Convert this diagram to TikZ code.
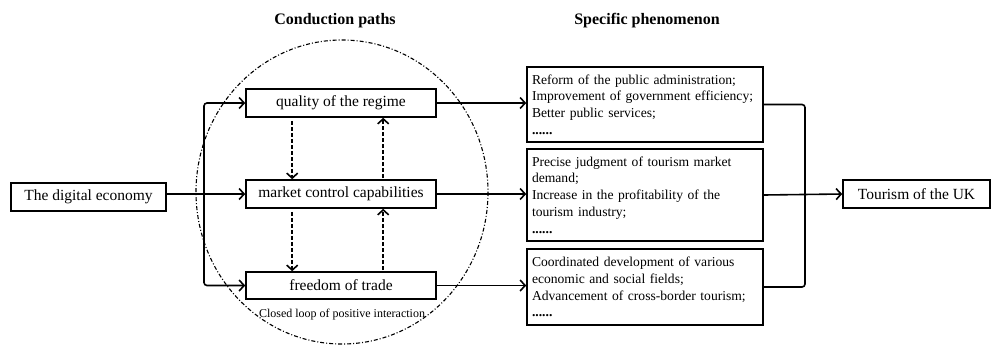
\documentclass[tikz,border=0pt]{standalone}
\usepackage{fontspec}
\setmainfont{Liberation Serif}
\usepackage{tikz}
\usetikzlibrary{arrows.meta}
\newcommand\phenfont{\fontsize{13.6}{16.7}\selectfont\hyphenpenalty=10000\relax}
\tikzset{
  pathbox/.style={draw, line width=1.6pt, inner sep=2pt, font=\fontsize{15.5}{17}\selectfont},
  phenbox/.style={draw, line width=1.6pt, inner xsep=5pt, inner ysep=3pt, text width=226pt, align=left, font=\phenfont},
  arr/.style={line width=1.6pt, -{Straight Barb[length=5pt,width=11pt,line width=1.6pt]}},
  dasharr/.style={arr, dash pattern=on 4pt off 2pt}
}
\tikzset{title/.style={font=\fontsize{16}{18}\selectfont\bfseries}}
\begin{document}
\begin{tikzpicture}[x=1pt, y=-1pt]
\useasboundingbox (0,0) rectangle (991,346);
\node [title] (ttlpaths) at (335,21) {Conduction paths};
\node [title] (ttlphen) at (647,21) {Specific phenomenon};
\draw [line width=1.1pt, dash pattern=on 4pt off 2pt on 1pt off 2pt] (342,192) ellipse (146 and 152);
\node [pathbox, minimum width=155pt, minimum height=28pt] (digital) at (88.5,197) {The digital economy};
\node [pathbox, minimum width=190pt, minimum height=28pt] (quality) at (341,103) {quality of the regime};
\node [pathbox, minimum width=190pt, minimum height=28pt] (market) at (341,194) {market control capabilities};
\node [pathbox, minimum width=190pt, minimum height=27pt] (freedom) at (341,285.5) {freedom of trade};
\node [font=\fontsize{12}{14}\selectfont] (loop) at (342,315) {Closed loop of positive interaction};
\node [phenbox, minimum height=75pt] (phen1) at (645,104.5) {Reform of the public administration;\\ Improvement of government efficiency;\\ Better public services;\\ \textbf{......}};
\node [phenbox, minimum height=92pt] (phen2) at (645,195) {Precise judgment of tourism market\\ demand;\\ Increase in the profitability of the\\ tourism industry;\\ \textbf{......}};
\node [phenbox, minimum height=76pt] (phen3) at (645,287) {Coordinated development of various\\ economic and social fields;\\ Advancement of cross-border tourism;\\ \textbf{......}};
\node [pathbox, minimum width=147pt, minimum height=28pt] (tourism) at (916.5,194) {Tourism of the UK};
\coordinate (split) at (204,0 |- market.west);
\coordinate (join) at (805,0 |- phen2.east);
% digital economy branches out
\draw [arr] (digital.east |- market.west) -- (market.west);
\draw [arr, rounded corners=3pt] (split) |- (quality.west);
\draw [arr, rounded corners=3pt] (split) |- (freedom.west);
% interaction loop
\draw [dasharr] ([xshift=47pt, yshift=-3pt]quality.south west) -- ([xshift=47pt]market.north west);
\draw [dasharr] ([xshift=138pt, yshift=1pt]market.north west) -- ([xshift=138pt]quality.south west);
\draw [dasharr] ([xshift=47pt, yshift=-3pt]market.south west) -- ([xshift=47pt]freedom.north west);
\draw [dasharr] ([xshift=138pt, yshift=1pt]freedom.north west) -- ([xshift=138pt]market.south west);
% paths to phenomena
\draw [arr] (quality.east) -- (quality.east -| phen1.west);
\draw [arr] (market.east) -- (market.east -| phen2.west);
\draw [arr] (freedom.east) -- (freedom.east -| phen3.west);
% phenomena to tourism
\draw [line width=1.6pt, rounded corners=3pt] (phen1.east) -| (join) |- (phen3.east);
\draw [arr] (phen2.east) -- (tourism.west);
\end{tikzpicture}
\end{document}
